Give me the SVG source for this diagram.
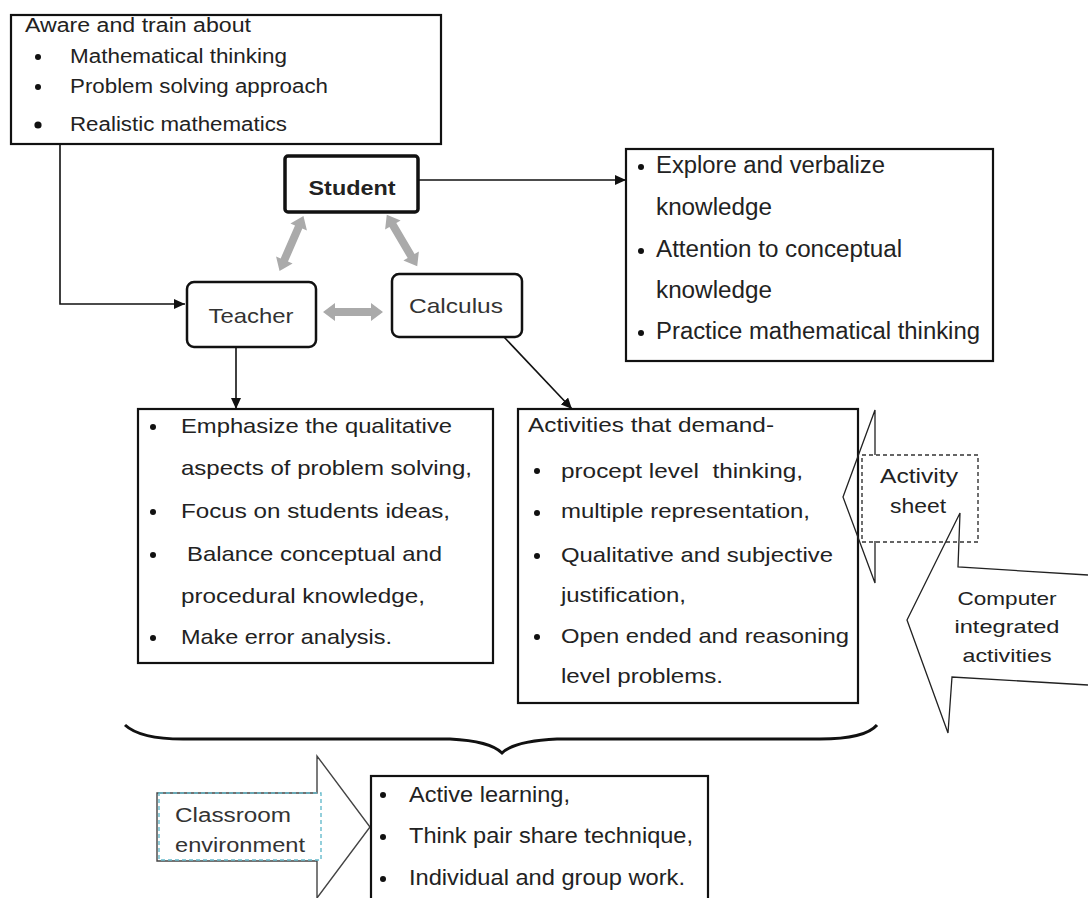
<svg xmlns="http://www.w3.org/2000/svg" width="1088" height="898" viewBox="0 0 1088 898">
<style>
text{font-family:"Liberation Sans",Arial,sans-serif;fill:#222;white-space:pre}
.box{fill:#fff;stroke:#111;stroke-width:2.2}
.t20{font-size:20px}
.t21{font-size:21px}
.t22{font-size:22px}
.t23{font-size:23px}
.t19{font-size:19px}
.mid{text-anchor:middle}
.bul{fill:#111}
.conn{fill:none;stroke:#111;stroke-width:1.6}
.gray{fill:#aaa}
.callout{fill:none;stroke:#222;stroke-width:1.3}
</style>
<defs>
<marker id="ah" markerUnits="userSpaceOnUse" markerWidth="12" markerHeight="10" refX="11" refY="5" orient="auto">
<path d="M0,0 L11,5 L0,10 Z" fill="#111"/>
</marker>
<path id="dbl" d="M-30,0 L-18,-9 L-18,-4 L18,-4 L18,-9 L30,0 L18,9 L18,4 L-18,4 L-18,9 Z"/>
</defs>

<g id="aware">
<rect class="box" x="11" y="15" width="430" height="129"/>
<text class="t20" x="25" y="32" textLength="226" lengthAdjust="spacingAndGlyphs">Aware and train about</text>
<circle class="bul" cx="38" cy="57" r="3"/>
<text class="t20" x="70" y="63" textLength="217" lengthAdjust="spacingAndGlyphs">Mathematical thinking</text>
<circle class="bul" cx="38" cy="87" r="3"/>
<text class="t20" x="70" y="93" textLength="258" lengthAdjust="spacingAndGlyphs">Problem solving approach</text>
<circle class="bul" cx="38" cy="125" r="3.6"/>
<text class="t20" x="70" y="131" textLength="217" lengthAdjust="spacingAndGlyphs">Realistic mathematics</text>
</g>

<g id="student">
<rect x="285" y="156" width="133" height="56" rx="3" fill="#fff" stroke="#111" stroke-width="3.5"/>
<text class="t21 mid" x="352" y="195" font-weight="bold" textLength="87" lengthAdjust="spacingAndGlyphs">Student</text>
</g>

<g id="teacher">
<rect x="187" y="282" width="129" height="65" rx="7" fill="#fff" stroke="#111" stroke-width="2.5"/>
<text class="t21 mid" x="251" y="323" style="fill:#333" textLength="85" lengthAdjust="spacingAndGlyphs">Teacher</text>
</g>

<g id="calculus">
<rect x="392" y="274" width="130" height="63" rx="7" fill="#fff" stroke="#111" stroke-width="2.5"/>
<text class="t21 mid" x="456" y="313" style="fill:#333" textLength="94" lengthAdjust="spacingAndGlyphs">Calculus</text>
</g>

<g id="student-outcomes">
<rect class="box" x="626" y="149" width="367" height="212" stroke-width="2.5"/>
<circle class="bul" cx="641" cy="167" r="3"/>
<text class="t23" x="656" y="173" textLength="229" lengthAdjust="spacingAndGlyphs">Explore and verbalize</text>
<text class="t23" x="656" y="215" textLength="116" lengthAdjust="spacingAndGlyphs">knowledge</text>
<circle class="bul" cx="641" cy="251" r="3"/>
<text class="t23" x="656" y="257" textLength="246" lengthAdjust="spacingAndGlyphs">Attention to conceptual</text>
<text class="t23" x="656" y="298" textLength="116" lengthAdjust="spacingAndGlyphs">knowledge</text>
<circle class="bul" cx="641" cy="333" r="3"/>
<text class="t23" x="656" y="339" textLength="324" lengthAdjust="spacingAndGlyphs">Practice mathematical thinking</text>
</g>

<g id="teacher-actions">
<rect class="box" x="138" y="409" width="355" height="254" stroke-width="2.8"/>
<circle class="bul" cx="153" cy="427" r="3"/>
<text class="t21" x="181" y="433" textLength="271" lengthAdjust="spacingAndGlyphs">Emphasize the qualitative</text>
<text class="t21" x="181" y="475" textLength="291" lengthAdjust="spacingAndGlyphs">aspects of problem solving,</text>
<circle class="bul" cx="153" cy="512" r="3"/>
<text class="t21" x="181" y="518" textLength="269" lengthAdjust="spacingAndGlyphs">Focus on students ideas,</text>
<circle class="bul" cx="153" cy="555" r="3"/>
<text class="t21" x="187" y="561" textLength="255" lengthAdjust="spacingAndGlyphs">Balance conceptual and</text>
<text class="t21" x="181" y="603" textLength="244" lengthAdjust="spacingAndGlyphs">procedural knowledge,</text>
<circle class="bul" cx="153" cy="638" r="3"/>
<text class="t21" x="181" y="644" textLength="211" lengthAdjust="spacingAndGlyphs">Make error analysis.</text>
</g>

<g id="activities">
<rect class="box" x="518" y="409" width="340" height="294" stroke-width="2.8"/>
<text class="t21" x="528" y="432" textLength="246" lengthAdjust="spacingAndGlyphs">Activities that demand-</text>
<circle class="bul" cx="537" cy="471" r="3"/>
<text class="t21" x="561" y="478" textLength="242" lengthAdjust="spacingAndGlyphs">procept level  thinking,</text>
<circle class="bul" cx="537" cy="513" r="3"/>
<text class="t21" x="561" y="518" textLength="249" lengthAdjust="spacingAndGlyphs">multiple representation,</text>
<circle class="bul" cx="537" cy="556" r="3"/>
<text class="t21" x="561" y="562" textLength="272" lengthAdjust="spacingAndGlyphs">Qualitative and subjective</text>
<text class="t21" x="561" y="602" textLength="125" lengthAdjust="spacingAndGlyphs">justification,</text>
<circle class="bul" cx="537" cy="637" r="3"/>
<text class="t21" x="561" y="643" textLength="288" lengthAdjust="spacingAndGlyphs">Open ended and reasoning</text>
<text class="t21" x="561" y="683" textLength="162" lengthAdjust="spacingAndGlyphs">level problems.</text>
</g>

<g id="activity-sheet">
<path class="callout" d="M875,455 L875,410 L843,497 L875,583 L875,541"/>
<rect x="862" y="455" width="116" height="87" fill="none" stroke="#333" stroke-width="1.4" stroke-dasharray="4,3"/>
<text class="t20 mid" x="919" y="483" textLength="78" lengthAdjust="spacingAndGlyphs">Activity</text>
<text class="t20 mid" x="918" y="513" textLength="56" lengthAdjust="spacingAndGlyphs">sheet</text>
</g>

<g id="computer-activities">
<path class="callout" d="M1088,575 L958,567 L960,513 L907,620 L948,733 L952,677 L1088,685"/>
<text class="t19 mid" x="1007" y="605" textLength="99" lengthAdjust="spacingAndGlyphs">Computer</text>
<text class="t19 mid" x="1007" y="633" textLength="105" lengthAdjust="spacingAndGlyphs">integrated</text>
<text class="t19 mid" x="1007" y="662" textLength="89" lengthAdjust="spacingAndGlyphs">activities</text>
</g>

<g id="brace">
<path d="M125,725 Q140,739 183,739 L450,739 Q490,741 502,753 Q514,741 557,739 L820,739 Q865,739 877,725" fill="none" stroke="#111" stroke-width="3"/>
</g>

<g id="classroom">
<path d="M157,793 L317,793 L317,756 L370,827 L317,898 L317,861 L157,861 Z" fill="#fff" stroke="#444" stroke-width="1.4"/>
<rect x="159" y="793" width="162" height="67" fill="none" stroke="#66bbcc" stroke-width="1.4" stroke-dasharray="4,3"/>
<text class="t20" x="175" y="822" style="fill:#333" textLength="116" lengthAdjust="spacingAndGlyphs">Classroom</text>
<text class="t20" x="175" y="852" style="fill:#333" textLength="130" lengthAdjust="spacingAndGlyphs">environment</text>
</g>

<g id="classroom-practices">
<rect class="box" x="371" y="776" width="337" height="135" stroke-width="2.5"/>
<circle class="bul" cx="383" cy="795" r="3"/>
<text class="t22" x="409" y="802" textLength="161" lengthAdjust="spacingAndGlyphs">Active learning,</text>
<circle class="bul" cx="383" cy="837" r="3"/>
<text class="t22" x="409" y="843" textLength="284" lengthAdjust="spacingAndGlyphs">Think pair share technique,</text>
<circle class="bul" cx="383" cy="879" r="3"/>
<text class="t22" x="409" y="885" textLength="276" lengthAdjust="spacingAndGlyphs">Individual and group work.</text>
</g>

<g id="connectors">
<path class="conn" d="M60,144 V304 H185" marker-end="url(#ah)"/>
<path class="conn" d="M418,180 H626" marker-end="url(#ah)"/>
<path class="conn" d="M236,347 V409" marker-end="url(#ah)"/>
<path class="conn" d="M504,337 L572,409" marker-end="url(#ah)"/>
<use href="#dbl" class="gray" transform="translate(291.5,243.5) rotate(-66.5)"/>
<use href="#dbl" class="gray" transform="translate(402,240.5) rotate(59.5)"/>
<use href="#dbl" class="gray" transform="translate(353,312)"/>
</g>
</svg>
